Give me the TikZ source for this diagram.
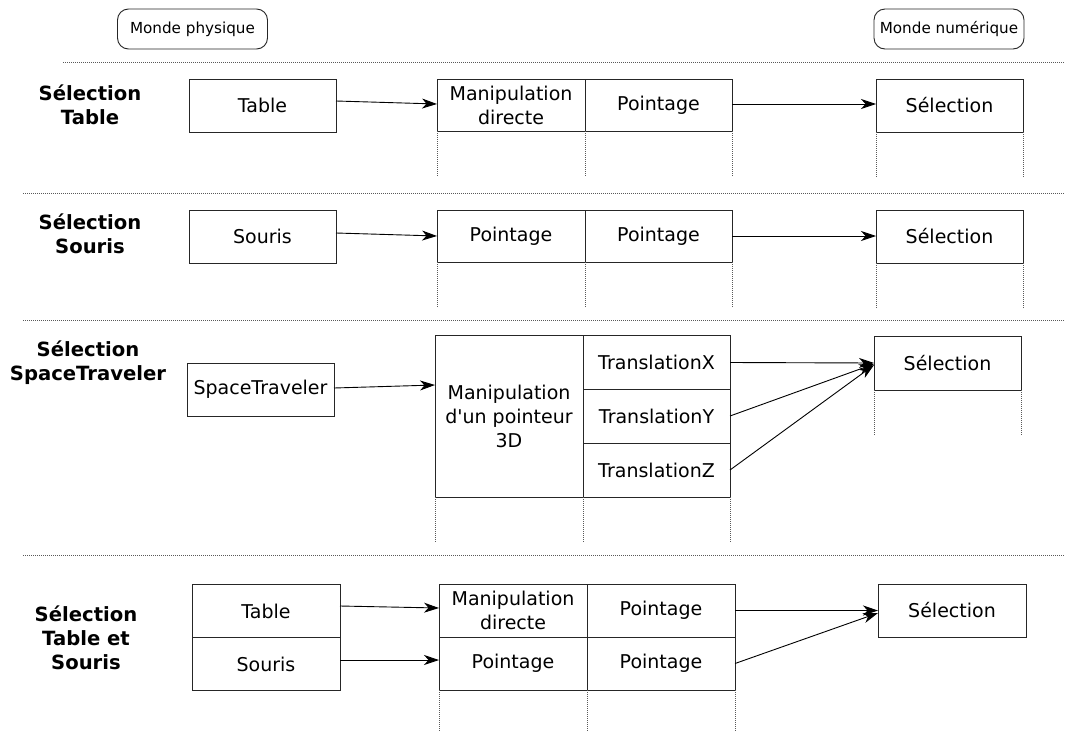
\documentclass[tikz,border=0pt]{standalone}
\usepackage{fontspec}
\setmainfont{DejaVu Sans}[Ligatures=TeXOff]
\usetikzlibrary{arrows.meta}
\begin{document}
\begin{tikzpicture}[x=1pt,y=-1pt,
  box/.style={draw=black!85, line width=0.9pt, rectangle, inner sep=0pt, outer sep=0pt,
    align=center, font=\fontsize{19}{24}\selectfont},
  hdr/.style={draw=black!85, line width=0.9pt, rounded corners=11pt, inner sep=0pt,
    minimum width=150pt, minimum height=40pt, font=\fontsize{15.2}{17}\selectfont},
  lbl/.style={align=center, inner sep=0pt, font=\fontsize{19.6}{24}\selectfont\bfseries},
  arr/.style={draw=black, line width=0.9pt, -{Stealth[length=15pt,width=10pt,inset=4.5pt]}},
  sep/.style={draw=black!65, line width=0.9pt, dash pattern=on 1pt off 1pt},
  vdot/.style={draw=black!65, line width=0.9pt, dash pattern=on 1pt off 1pt}]
\useasboundingbox[fill=white] (0,0) rectangle (1065,731);

% headers
\node[hdr] (mp) at (192.5,29) {Monde physique};
\node[hdr] (mn) at (949,29) {Monde numérique};

% separators
\draw[sep] (63,62) -- (1065,62);
\draw[sep] (23,193) -- (1065,193);
\draw[sep] (23,320) -- (1065,320);
\draw[sep] (23,555) -- (1065,555);

% ---- Section 1
\node[lbl] (L1) at (90,104.5) {Sélection\\Table};
\node[box, minimum width=147pt, minimum height=53pt] (t1) at (262.5,105.5) {Table};
\node[box, minimum width=148pt, minimum height=52pt] (m1) at (511,105) {Manipulation\\directe};
\node[box, minimum width=147pt, minimum height=52pt] (p1) at (658.5,105) {Pointage};
\node[box, minimum width=147pt, minimum height=53pt] (s1) at (949.5,105.5) {Sélection};
\draw[arr] ([yshift=4.5pt]t1.east) -- ([yshift=1pt]m1.west);
\draw[arr] ([yshift=1pt]p1.east) -- ([yshift=1.5pt]s1.west);
\draw[vdot] (m1.south west) -- +(0,46);
\draw[vdot] (m1.south east) -- +(0,46);
\draw[vdot] (p1.south east) -- +(0,46);
\draw[vdot] (s1.south west) -- +(0,45);
\draw[vdot] (s1.south east) -- +(0,45);

% ---- Section 2
\node[lbl] (L2) at (90,234) {Sélection\\Souris};
\node[box, minimum width=147pt, minimum height=53pt] (t2) at (262.5,236.5) {Souris};
\node[box, minimum width=148pt, minimum height=52pt] (m2) at (511,236) {Pointage};
\node[box, minimum width=147pt, minimum height=52pt] (p2) at (658.5,236) {Pointage};
\node[box, minimum width=147pt, minimum height=53pt] (s2) at (949.5,236.5) {Sélection};
\draw[arr] ([yshift=3.5pt]t2.east) -- (m2.west);
\draw[arr] (p2.east) -- ([yshift=0.5pt]s2.west);
\draw[vdot] (m2.south west) -- +(0,46);
\draw[vdot] (m2.south east) -- +(0,46);
\draw[vdot] (p2.south east) -- +(0,46);
\draw[vdot] (s2.south west) -- +(0,45);
\draw[vdot] (s2.south east) -- +(0,45);

% ---- Section 3
\node[lbl] (L3) at (88,363) {Sélection\\SpaceTraveler};
\node[box, minimum width=147pt, minimum height=53pt] (sp) at (260.5,389.5) {SpaceTraveler};
\node[box, minimum width=148pt, minimum height=162pt] (mb) at (509,416) {Manipulation\\d'un pointeur\\3D};
\node[box, minimum width=147pt, minimum height=54pt] (tx) at (656.5,362.5) {TranslationX};
\node[box, minimum width=147pt, minimum height=54pt] (ty) at (656.5,416) {TranslationY};
\node[box, minimum width=147pt, minimum height=54pt] (tz) at (656.5,470) {TranslationZ};
\node[box, minimum width=147pt, minimum height=54pt] (s3) at (947.5,363) {Sélection};
\draw[arr] ([yshift=1.5pt]sp.east) -- ([yshift=31pt]mb.west);
\draw[arr] (tx.east) -- (s3.west);
\draw[arr] (ty.east) -- ([yshift=-1pt]s3.west);
\draw[arr] (tz.east) -- ([yshift=-2pt]s3.west);
\draw[vdot] (mb.south west) -- +(0,46);
\draw[vdot] (mb.south east) -- +(0,46);
\draw[vdot] (tz.south east) -- +(0,46);
\draw[vdot] (s3.south west) -- +(0,45);
\draw[vdot] (s3.south east) -- +(0,45);

% ---- Section 4
\node[lbl] (L4) at (86,638) {Sélection\\Table et\\Souris};
\node[box, minimum width=148pt, minimum height=53pt] (t4) at (266,611) {Table};
\node[box, minimum width=148pt, minimum height=53pt] (u4) at (266,664) {Souris};
\node[box, minimum width=148pt, minimum height=53pt] (m4) at (513,610.5) {Manipulation\\directe};
\node[box, minimum width=148pt, minimum height=53pt] (q4) at (513,663.5) {Pointage};
\node[box, minimum width=148pt, minimum height=53pt] (p4) at (661,610.5) {Pointage};
\node[box, minimum width=148pt, minimum height=53pt] (r4) at (661,663.5) {Pointage};
\node[box, minimum width=148pt, minimum height=53pt] (s4) at (952,610.5) {Sélection};
\draw[arr] ([yshift=5pt]t4.east) -- ([yshift=2.5pt]m4.west);
\draw[arr] ([yshift=4pt]u4.east) -- ([yshift=3.5pt]q4.west);
\draw[arr] (p4.east) -- (s4.west);
\draw[arr] (r4.east) -- ([yshift=-2.5pt]s4.west);
\draw[vdot] (q4.south west) -- +(0,41);
\draw[vdot] (q4.south east) -- +(0,41);
\draw[vdot] (r4.south east) -- +(0,41);
\end{tikzpicture}
\end{document}
